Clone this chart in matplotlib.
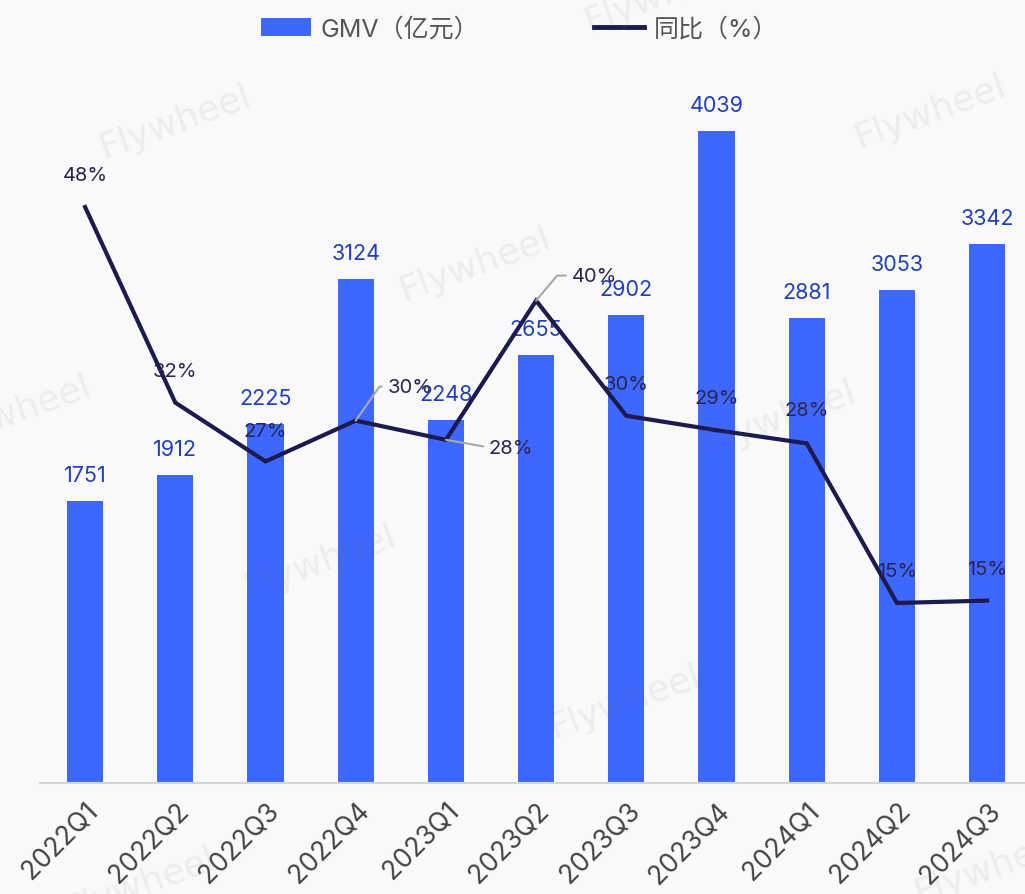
import matplotlib
matplotlib.use("Agg")
import matplotlib.pyplot as plt
from matplotlib.patches import Patch
from matplotlib.lines import Line2D

plt.rcParams['font.family'] = ['Inter', 'Noto Sans CJK SC', 'DejaVu Sans']

quarters = ['2022Q1', '2022Q2', '2022Q3', '2022Q4', '2023Q1', '2023Q2',
            '2023Q3', '2023Q4', '2024Q1', '2024Q2', '2024Q3']
gmv = [1751, 1912, 2225, 3124, 2248, 2655, 2902, 4039, 2881, 3053, 3342]
yoy = [48.0, 31.7, 26.8, 30.2, 28.6, 40.2, 30.6, 29.4, 28.3, 15.0, 15.2]
yoy_labels = ['48%', '32%', '27%', '30%', '28%', '40%', '30%', '29%', '28%', '15%', '15%']

bar_c = '#3D67FF'
line_c = '#1C1A4E'
bg = '#F9F9FC'

fig = plt.figure(figsize=(10.25, 8.95), dpi=100, facecolor=bg)
ax = fig.add_axes([40 / 1025, 1 - 784 / 895, 985 / 1025, 726 / 895])
ax.set_facecolor(bg)
x = list(range(len(quarters)))
ax.bar(x, gmv, width=0.4, color=bar_c, zorder=2)
ax.set_ylim(0, 4500)
ax.set_xlim(-0.5, 10.42)
for xi, v in zip(x, gmv):
    ax.annotate(str(v), (xi, v), xytext=(0, 26), textcoords='offset pixels',
                ha='center', va='center', fontsize=15.5, color='#1F3FBF', zorder=5)

ax.set_xticks(x)
ax.set_xticklabels(quarters, rotation=45, ha='right', rotation_mode='anchor',
                   fontsize=19, color='#444444')
ax.tick_params(axis='x', length=0, pad=10)
ax.set_yticks([])
for s in ['top', 'right', 'left']:
    ax.spines[s].set_visible(False)
ax.spines['bottom'].set_color('#D5D5D8')
ax.spines['bottom'].set_linewidth(1.5)

ax2 = ax.twinx()
ax2.set_ylim(0, 60.5)
ax2.plot(x, yoy, color=line_c, lw=3, zorder=4, solid_joinstyle='miter')
ax2.axis('off')

# label placement: (dx, dy) in pixels, leader angle or None
offsets = [(0, 32, None), (0, 32, None), (0, 30, None), (54, 34, 55),
           (65, -8, -10), (58, 25, 50), (0, 32, None), (0, 32, None),
           (0, 33, None), (0, 32, None), (0, 32, None)]
for xi, v, lab, (dx, dy, ang) in zip(x, yoy, yoy_labels, offsets):
    if ang is None:
        ax2.annotate(lab, (xi, v), xytext=(dx, dy), textcoords='offset pixels',
                     ha='center', va='center', fontsize=14.5, color='#2A2550', zorder=6)
    else:
        ax2.annotate(lab, (xi, v), xytext=(dx, dy), textcoords='offset pixels',
                     ha='center', va='center', fontsize=14.5, color='#2A2550', zorder=6,
                     arrowprops=dict(arrowstyle='-', color='#A8A8A8', lw=1.5,
                                     shrinkA=2, shrinkB=0,
                                     connectionstyle=f'angle,angleA=0,angleB={ang},rad=0'))

handles = [Patch(facecolor=bar_c, edgecolor='none'),
           Line2D([0], [0], color=line_c, lw=3.5)]
fig.legend(handles, ['GMV（亿元）', '同比（%）'], loc='upper center',
           bbox_to_anchor=(0.507, 1.005), ncol=2, frameon=False, fontsize=18,
           labelcolor='#555555', handlelength=2.0, handletextpad=0.4,
           columnspacing=4.6)

# watermarks
marks = [(175, 122), (475, 265), (930, 112), (15, 412), (780, 418),
         (320, 562), (625, 702), (990, 868), (140, 885), (660, -4)]
for px, py in marks:
    fig.text(px / 1025, 1 - py / 895, 'Flywheel', fontsize=26, color='#808080',
             alpha=0.10, rotation=20, ha='center', va='center', zorder=10,
             family='DejaVu Sans')

fig.savefig('out.png', dpi=100, facecolor=bg)
